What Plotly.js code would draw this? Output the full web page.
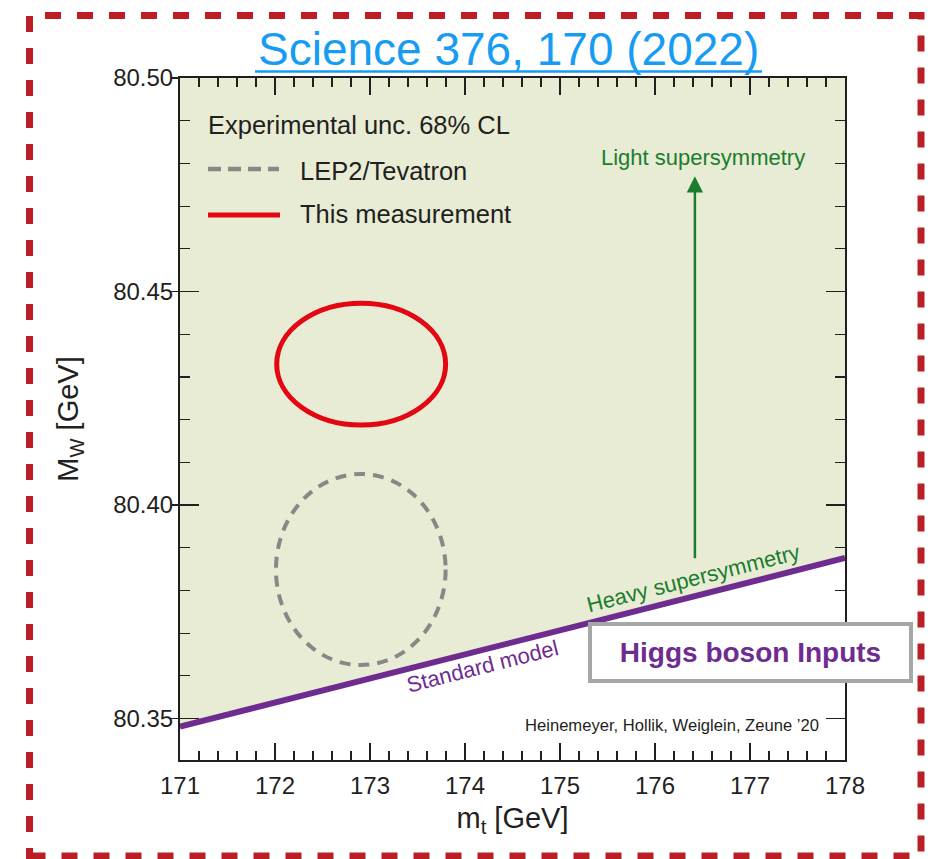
<!DOCTYPE html>
<html>
<head>
<meta charset="utf-8">
<script src="https://cdn.plot.ly/plotly-3.0.1.min.js"></script>
<style>html,body{margin:0;padding:0;background:#fff;}#chart{width:938px;height:859px;}</style>
</head>
<body>
<div id="chart"></div>
<script>
// ---- data ----
const xRange = [171, 178];
const yRange = [80.3403, 80.50];
const xTickVals = [171, 172, 173, 174, 175, 176, 177, 178];
const yTickVals = [80.35, 80.40, 80.45, 80.50];

// Standard model line (m_t, M_W)
const smX = [171, 178];
const smY = [80.3481, 80.3876];

// 68% CL ellipses: [center x, center y, semi-axis x, semi-axis y]
const thisMeasurement = [172.907, 80.4330, 0.889, 0.01425];
const lep2Tevatron   = [172.903, 80.3849, 0.893, 0.02237];

// arrow towards light supersymmetry
const arrowX = 176.42;
const arrowYFrom = 80.3872;
const arrowYTo = 80.477;

const legendTitle = 'Experimental unc. 68% CL';
const legendNames = ['LEP2/Tevatron', 'This measurement'];

// ---- layout helpers (pixel -> paper), plot area 180..845 x 78..760 ----
const L = 180, R = 93, T = 78, B = 99, W = 938, H = 859;
const PW = W - L - R, PH = H - T - B;
const px = v => (v - L) / PW;
const py = v => (H - B - v) / PH;

const FONT = 'Liberation Sans, Arial, Helvetica, sans-serif';
const purple = '#6e2c90', green = '#1b7d2e', red = '#e30613', grey = '#8c8787';

function ellipse(e, color, width, dash) {
  return {type: 'circle', xref: 'x', yref: 'y', layer: 'above',
    x0: e[0] - e[2], x1: e[0] + e[2], y0: e[1] - e[3], y1: e[1] + e[3],
    line: {color: color, width: width, dash: dash}};
}

const traces = [{
  x: smX, y: smY, type: 'scatter', mode: 'lines',
  fill: 'tozeroy', fillcolor: '#ffffff',
  line: {color: purple, width: 6}, hoverinfo: 'skip', showlegend: false
}];

const axisCommon = {
  showline: true, linecolor: '#231f20', linewidth: 2, mirror: 'ticks',
  ticks: 'inside', tickcolor: '#231f20', tickwidth: 1.5,
  showgrid: false, zeroline: false,
  tickfont: {family: FONT, size: 24, color: '#231f20'}
};

const layout = {
  width: W, height: H,
  margin: {l: L, r: R, t: T, b: B},
  paper_bgcolor: '#ffffff',
  plot_bgcolor: '#e8ecd5',
  showlegend: false,
  xaxis: Object.assign({}, axisCommon, {
    range: xRange, tickvals: xTickVals, ticklen: 17,
    ticklabelstandoff: 3,
    minor: {dtick: 0.2, ticklen: 9, ticks: 'inside', tickcolor: '#231f20', tickwidth: 1.2},
    title: {text: 'm<sub>t</sub> [GeV]', font: {family: FONT, size: 29, color: '#231f20'}, standoff: 10}
  }),
  yaxis: Object.assign({}, axisCommon, {
    range: yRange, tickvals: yTickVals, tickformat: '.2f', ticklen: 19,
    minor: {dtick: 0.01, ticklen: 10, ticks: 'inside', tickcolor: '#231f20', tickwidth: 1.2},
    title: {text: 'M<sub>W</sub> [GeV]', font: {family: FONT, size: 29, color: '#231f20'}, standoff: 26}
  }),
  yaxis2: {
    overlaying: 'y', side: 'left', range: yRange, tickvals: yTickVals,
    ticks: 'outside', ticklen: 8, tickcolor: '#231f20', tickwidth: 1.5,
    showticklabels: false, showline: false, showgrid: false, zeroline: false
  },
  shapes: [
    ellipse(lep2Tevatron, grey, 4, '11px,8px'),
    ellipse(thisMeasurement, red, 5, 'solid'),
    // legend samples
    {type: 'line', xref: 'paper', yref: 'paper', x0: px(208), x1: px(279), y0: py(169), y1: py(169),
      line: {color: grey, width: 4.5, dash: '13px,7px'}},
    {type: 'line', xref: 'paper', yref: 'paper', x0: px(208), x1: px(280), y0: py(215), y1: py(215),
      line: {color: red, width: 5}},
    // title underline
    {type: 'line', xref: 'paper', yref: 'paper', x0: px(255), x1: px(762), y0: py(71.5), y1: py(71.5),
      line: {color: '#189bf3', width: 2.5}},
    // dashed frame
    {type: 'rect', xref: 'paper', yref: 'paper', x0: px(29.5), x1: px(921), y0: py(856), y1: py(15.5),
      line: {color: '#bb1e24', width: 7, dash: '16px,16px'}, layer: 'above'}
  ],
  annotations: [
    {xref: 'paper', yref: 'paper', x: px(508), y: py(49), xanchor: 'center', yanchor: 'middle',
      text: 'Science 376, 170 (2022)', showarrow: false,
      font: {family: FONT, size: 46, color: '#189bf3'}},
    {xref: 'paper', yref: 'paper', x: px(206), y: py(125), xanchor: 'left', yanchor: 'middle',
      text: legendTitle, showarrow: false, font: {family: FONT, size: 25.5, color: '#231f20'}},
    {xref: 'paper', yref: 'paper', x: px(298), y: py(171), xanchor: 'left', yanchor: 'middle',
      text: legendNames[0], showarrow: false, font: {family: FONT, size: 25.5, color: '#231f20'}},
    {xref: 'paper', yref: 'paper', x: px(298), y: py(214), xanchor: 'left', yanchor: 'middle',
      text: legendNames[1], showarrow: false, font: {family: FONT, size: 25.5, color: '#231f20'}},
    {xref: 'x', yref: 'y', x: 176.5, y: 80.4815, xanchor: 'center', yanchor: 'middle',
      text: 'Light supersymmetry', showarrow: false, font: {family: FONT, size: 22, color: green}},
    {xref: 'x', yref: 'y', x: arrowX, y: arrowYTo, axref: 'x', ayref: 'y', ax: arrowX, ay: arrowYFrom,
      text: '', showarrow: true, arrowhead: 2, arrowsize: 1.3, arrowwidth: 2.5, arrowcolor: green},
    {xref: 'x', yref: 'y', x: 176.4, y: 80.3827, xanchor: 'center', yanchor: 'middle', textangle: -14.2,
      text: 'Heavy supersymmetry', showarrow: false, font: {family: FONT, size: 22, color: green}},
    {xref: 'x', yref: 'y', x: 174.18, y: 80.3621, xanchor: 'center', yanchor: 'middle', textangle: -14.2,
      text: 'Standard model', showarrow: false, font: {family: FONT, size: 22, color: purple}},
    {xref: 'paper', yref: 'paper', x: px(821), y: py(725), xanchor: 'right', yanchor: 'middle',
      text: 'Heinemeyer, Hollik, Weiglein, Zeune \u201920', showarrow: false,
      font: {family: FONT, size: 16.6, color: '#231f20'}},
    {xref: 'paper', yref: 'paper', x: px(750.5), y: py(652.5), xanchor: 'center', yanchor: 'middle',
      text: '<b>Higgs boson Inputs</b>', showarrow: false,
      width: 317, height: 53, borderpad: 0, borderwidth: 4,
      bordercolor: '#a4a8a8', bgcolor: '#ffffff',
      font: {family: FONT, size: 28, color: purple}}
  ]
};

// invisible trace to activate yaxis2 (outside tick stubs)
traces.push({x: [xRange[0]], y: [yRange[1]], yaxis: 'y2', type: 'scatter', mode: 'markers',
  marker: {opacity: 0}, hoverinfo: 'skip', showlegend: false});

Plotly.newPlot('chart', traces, layout, {displayModeBar: false, staticPlot: true});
</script>
</body>
</html>
